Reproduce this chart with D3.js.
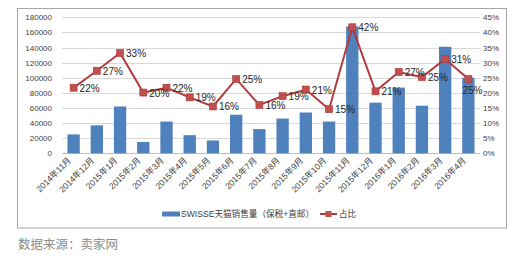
<!DOCTYPE html>
<html>
<head>
<meta charset="utf-8">
<script src="https://cdn.jsdelivr.net/npm/d3@7/dist/d3.min.js"></script>
<style>
  body { margin: 0; background: #fff; }
  text { font-family: "Liberation Sans", "Noto Sans CJK SC", sans-serif; }
</style>
</head>
<body>
<svg id="vis" width="525" height="260"></svg>
<script>
// months on the x axis
const months = ["2014年11月", "2014年12月", "2015年1月", "2015年2月", "2015年3月", "2015年4月",
  "2015年5月", "2015年6月", "2015年7月", "2015年8月", "2015年9月", "2015年10月",
  "2015年11月", "2015年12月", "2016年1月", "2016年2月", "2016年3月", "2016年4月"]
// SWISSE 天猫销售量 (bars, left axis)
const sales = [25000, 37000, 62000, 15000, 42000, 24000, 17000, 51000, 32000,
  46000, 54000, 42000, 168000, 67000, 87000, 63000, 141000, 100000]
// 占比 in % (line, right axis)
const share = [21.7, 27.3, 33.2, 20.1, 21.7, 18.5, 15.5, 24.6, 16.0,
  18.9, 21.1, 14.6, 41.7, 20.5, 26.9, 25.2, 31.2, 24.6]
const leftTicks = [0, 20000, 40000, 60000, 80000, 100000, 120000, 140000, 160000, 180000]
const rightTicks = [0, 5, 10, 15, 20, 25, 30, 35, 40, 45]

const svg = d3.select("#vis")

// outer chart frame
svg.append("rect")
  .attr("x", 17.5).attr("y", 8.5)
  .attr("width", 489).attr("height", 219.5)
  .attr("fill", "none").attr("stroke", "#a6a6a6")

const x = d3.scaleBand().domain(months).range([62, 480])
  .paddingInner(0.47).paddingOuter(0.235)
const y = d3.scaleLinear().domain([0, 180000]).range([153.3, 17.3])
const y2 = d3.scaleLinear().domain([0, 45]).range([153.3, 17.3])

// gridlines
svg.append("g")
  .selectAll("line")
  .data(leftTicks)
  .join("line")
  .attr("x1", 62).attr("x2", 480)
  .attr("y1", d => Math.round(y(d)) + 0.5)
  .attr("y2", d => Math.round(y(d)) + 0.5)
  .attr("stroke", d => d === 0 ? "#bfbfbf" : "#d9d9d9")

// left axis
const gl = svg.append("g").attr("transform", "translate(62,0)")
  .call(d3.axisLeft(y).tickValues(leftTicks).tickSize(0).tickPadding(10)
    .tickFormat(d3.format("d")))
gl.select(".domain").remove()
gl.selectAll("text").attr("font-size", 8).attr("fill", "#404040")

// right axis
const gr = svg.append("g").attr("transform", "translate(480,0)")
  .call(d3.axisRight(y2).tickValues(rightTicks).tickSize(0).tickPadding(3)
    .tickFormat(d => d + "%"))
gr.select(".domain").remove()
gr.selectAll("text").attr("font-size", 8).attr("fill", "#404040")

// bottom axis labels rotated
svg.append("g")
  .selectAll("text")
  .data(months)
  .join("text")
  .attr("transform", d => "translate(" + (x(d) + x.bandwidth() / 2 - 2) + ",161) rotate(-45)")
  .attr("text-anchor", "end")
  .attr("font-size", 8.5)
  .attr("fill", "#404040")
  .text(d => d)

// bars
svg.append("g")
  .selectAll("rect")
  .data(sales)
  .join("rect")
  .attr("x", (d, i) => x(months[i]))
  .attr("y", d => y(d))
  .attr("width", x.bandwidth())
  .attr("height", d => y(0) - y(d))
  .attr("fill", "#4f81bd")

// line
const line = d3.line()
  .x((d, i) => x(months[i]) + x.bandwidth() / 2)
  .y(d => y2(d))

svg.append("path")
  .datum(share)
  .attr("d", line)
  .attr("fill", "none")
  .attr("stroke", "#b03a3f")
  .attr("stroke-width", 2)

svg.append("g")
  .selectAll("rect")
  .data(share)
  .join("rect")
  .attr("x", (d, i) => x(months[i]) + x.bandwidth() / 2 - 3.5)
  .attr("y", d => y2(d) - 3.5)
  .attr("width", 7).attr("height", 7)
  .attr("fill", "#c0504d")
  .attr("stroke", "#a7393c").attr("stroke-width", 0.6)

// data labels
svg.append("g")
  .selectAll("text")
  .data(share)
  .join("text")
  .attr("x", (d, i) => x(months[i]) + x.bandwidth() / 2 + (i === share.length - 1 ? -6 : 6))
  .attr("y", (d, i) => y2(d) + (i === share.length - 1 ? 15 : 4))
  .attr("font-size", 10)
  .attr("fill", "#262626")
  .text(d => Math.round(d) + "%")

// legend
const lg = svg.append("g").attr("transform", "translate(0,214)")
lg.append("rect").attr("x", 162).attr("y", -2.5).attr("width", 18).attr("height", 5).attr("fill", "#4f81bd")
lg.append("text").attr("x", 181).attr("y", 3.2).attr("font-size", 8.6).attr("fill", "#404040")
  .text("SWISSE天猫销售量（保税+直邮）")
lg.append("line").attr("x1", 320).attr("x2", 337).attr("y1", 0).attr("y2", 0)
  .attr("stroke", "#b03a3f").attr("stroke-width", 2)
lg.append("rect").attr("x", 325.5).attr("y", -3).attr("width", 6).attr("height", 6).attr("fill", "#c0504d")
lg.append("text").attr("x", 339).attr("y", 3.2).attr("font-size", 8.6).attr("fill", "#404040")
  .text("占比")

// source note
svg.append("text")
  .attr("x", 18).attr("y", 249)
  .attr("font-size", 12.5)
  .attr("fill", "#8c8c8c")
  .text("数据来源：卖家网")
</script>
</body>
</html>
